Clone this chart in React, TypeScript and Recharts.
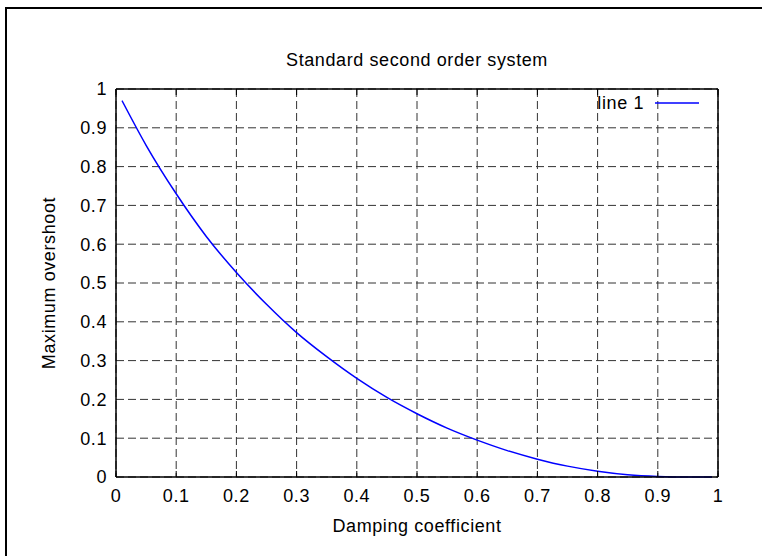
import { CartesianGrid, Legend, Line, LineChart, XAxis, YAxis } from "recharts";

// damping coefficient (zeta) and max overshoot
const zeta = [
  0.01, 0.05, 0.1, 0.15, 0.2, 0.25, 0.3, 0.35, 0.4, 0.45, 0.5, 0.55, 0.6,
  0.65, 0.7, 0.75, 0.8, 0.85, 0.9, 0.95, 0.99,
];
const overshoot = [
  0.97, 0.855, 0.73, 0.62, 0.527, 0.445, 0.372, 0.31, 0.254, 0.205, 0.163,
  0.126, 0.095, 0.068, 0.046, 0.028, 0.015, 0.006, 0.0015, 0.0, 0.0,
];
const xTicks = [0, 0.1, 0.2, 0.3, 0.4, 0.5, 0.6, 0.7, 0.8, 0.9, 1];
const yTicks = [0, 0.1, 0.2, 0.3, 0.4, 0.5, 0.6, 0.7, 0.8, 0.9, 1];
const seriesName = "line 1";

const data = zeta.map((z, i) => ({ zeta: z, value: overshoot[i] }));

const FONT = '"Liberation Sans", Arial, sans-serif';
const FS = 18;
const LS = 0.6;
const textStyle = { fontFamily: FONT, fontSize: FS, letterSpacing: LS, fill: "#000" };
const noTick = () => <g />;

const labelBox = {
  position: "absolute" as const,
  lineHeight: "18px",
  fontSize: FS,
  letterSpacing: LS,
  textAlign: "center" as const,
  color: "#000",
};

export default function App() {
  return (
    <div
      style={{
        position: "fixed",
        left: 0,
        top: 0,
        width: 762,
        height: 556,
        background: "#fff",
        fontFamily: FONT,
      }}
    >
      {/* frame: only top and left edges are visible */}
      <div style={{ position: "absolute", left: 5, top: 7, width: 757, height: 2, background: "#000" }} />
      <div style={{ position: "absolute", left: 5, top: 7, width: 2, height: 549, background: "#000" }} />
      <LineChart
        width={762}
        height={556}
        data={data}
        margin={{ top: 89, right: 44, bottom: 0, left: 0 }}
        style={{ position: "absolute", left: 0, top: 0 }}
      >
        <CartesianGrid
          xAxisId="x"
          yAxisId="y"
          stroke="#333"
          strokeDasharray="8 4"
          horizontalValues={yTicks}
          verticalValues={xTicks}
        />
        <XAxis
          xAxisId="x"
          dataKey="zeta"
          type="number"
          domain={[0, 1]}
          ticks={xTicks}
          height={79}
          tickLine={false}
          tickSize={0}
          tickMargin={12}
          axisLine={{ stroke: "#000", strokeWidth: 1.5 }}
          tick={textStyle}
        />
        <XAxis
          xAxisId="xb"
          dataKey="zeta"
          type="number"
          orientation="bottom"
          mirror
          domain={[0, 1]}
          ticks={xTicks}
          tickSize={6}
          tickLine={{ stroke: "#000" }}
          axisLine={false}
          tick={noTick}
        />
        <XAxis
          xAxisId="xt"
          dataKey="zeta"
          type="number"
          orientation="top"
          mirror
          domain={[0, 1]}
          ticks={xTicks}
          tickSize={6}
          tickLine={{ stroke: "#000" }}
          axisLine={{ stroke: "#000", strokeWidth: 1.5 }}
          tick={noTick}
        />
        <YAxis
          yAxisId="y"
          type="number"
          domain={[0, 1]}
          ticks={yTicks}
          width={116}
          tickLine={false}
          tickSize={0}
          tickMargin={9}
          axisLine={{ stroke: "#000", strokeWidth: 1.5 }}
          tick={textStyle}
        />
        <YAxis
          yAxisId="yl"
          type="number"
          orientation="left"
          mirror
          domain={[0, 1]}
          ticks={yTicks}
          tickSize={6}
          tickLine={{ stroke: "#000" }}
          axisLine={false}
          tick={noTick}
        />
        <YAxis
          yAxisId="yr"
          type="number"
          orientation="right"
          mirror
          domain={[0, 1]}
          ticks={yTicks}
          tickSize={6}
          tickLine={{ stroke: "#000" }}
          axisLine={{ stroke: "#000", strokeWidth: 1.5 }}
          tick={noTick}
        />
        <Legend
          layout="horizontal"
          verticalAlign="middle"
          align="center"
          wrapperStyle={{ top: 93, left: "auto", right: 63, width: "auto" }}
          content={() => (
            <div
              style={{
                display: "flex",
                alignItems: "center",
                fontSize: FS,
                letterSpacing: LS,
                lineHeight: "20px",
                color: "#000",
              }}
            >
              <span style={{ marginRight: 11 }}>{seriesName}</span>
              <svg width={44} height={4}>
                <line x1={0} y1={2} x2={44} y2={2} stroke="#0000ff" strokeWidth={1.5} />
              </svg>
            </div>
          )}
        />
        <Line
          xAxisId="x"
          yAxisId="y"
          name={seriesName}
          dataKey="value"
          type="monotone"
          stroke="#0000ff"
          strokeWidth={1.5}
          dot={false}
          isAnimationActive={false}
        />
      </LineChart>
      <div style={{ ...labelBox, left: 116, width: 602, top: 51 }}>
        Standard second order system
      </div>
      <div style={{ ...labelBox, left: 116, width: 602, top: 517 }}>
        Damping coefficient
      </div>
      <div
        style={{
          ...labelBox,
          left: 49 - 100,
          width: 200,
          top: 283 - 9,
          transform: "rotate(-90deg)",
        }}
      >
        Maximum overshoot
      </div>
    </div>
  );
}
